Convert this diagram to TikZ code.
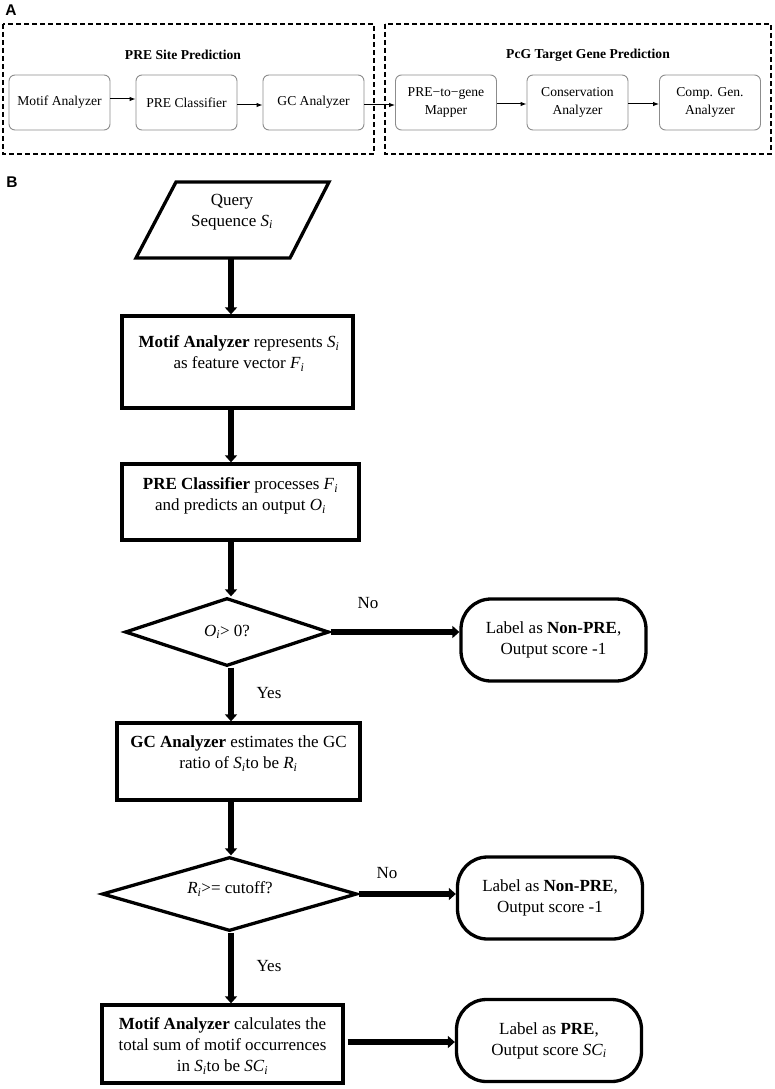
\documentclass[tikz,border=0pt]{standalone}
\usepackage{fontspec}
\setmainfont{Liberation Serif}
\newfontfamily\labfont{Liberation Sans}
\usetikzlibrary{shapes.geometric,arrows.meta,calc}
\newcommand{\subv}[1]{\textit{#1}\textsubscript{\textit{i}}}
\tikzset{
  dashbox/.style={draw, dash pattern=on 5pt off 3pt, line width=1.2pt},
  abox/.style={draw=black!45, line width=0.9pt, rounded corners=6pt, minimum width=101pt, minimum height=55pt, align=center, inner sep=2pt, font=\fontsize{13.6}{18}\selectfont},
  atitle/.style={font=\fontsize{13.6}{16}\selectfont\bfseries},
  aarr/.style={line width=1pt, -{Latex[length=6pt,width=4.5pt]}},
  bbox/.style={draw, line width=3.3pt, inner sep=0pt},
  btext/.style={align=center, font=\fontsize{17}{21}\selectfont, inner sep=0pt},
  term/.style={draw, line width=3.3pt, rounded corners=30pt, minimum width=185pt, minimum height=82pt, align=center, font=\fontsize{17}{21}\selectfont},
  dec/.style={draw, diamond, line width=3.3pt, aspect=3, inner sep=0pt, font=\fontsize{17}{21}\selectfont},
  barr/.style={line width=5.5pt, -{Triangle[length=7pt,width=12pt]}},
  lbl/.style={font=\fontsize{17}{21}\selectfont},
  panel/.style={font=\labfont\fontsize{15.5}{17}\selectfont\bfseries}
}
\begin{document}
\begin{tikzpicture}[x=1pt,y=-1pt]
\useasboundingbox (0,0) rectangle (774,1089);
% ---------- Panel A ----------
\node[panel] (pa) at (11,10) {A};
\draw[dashbox] (3,24) rectangle (374,154);
\draw[dashbox] (385,24) rectangle (771,154);
\node[atitle] (t1) at (183,55) {PRE Site Prediction};
\node[atitle] (t2) at (588,55) {PcG Target Gene Prediction};
\node[abox] (a1) at (59.5,102.5) {Motif Analyzer};
\node[abox] (a2) at (186.5,102.5) {PRE Classifier};
\node[abox] (a3) at (313.5,102.5) {GC Analyzer};
\node[abox] (a4) at (446,102.5) {PRE−to−gene\\Mapper};
\node[abox] (a5) at (577.5,102.5) {Conservation\\Analyzer};
\node[abox] (a6) at (710,102.5) {Comp. Gen.\\Analyzer};
\draw[aarr] ([yshift=3.5pt]a1.east) -- ([yshift=3.5pt]a2.west);
\draw[aarr] ([yshift=-2.5pt]a2.east) -- ([yshift=-2.5pt]a3.west);
\draw[aarr] ([yshift=-2.5pt]a3.east) -- ([yshift=-2.5pt]a4.west);
\draw[aarr] ([yshift=-1.5pt]a4.east) -- ([yshift=-1.5pt]a5.west);
\draw[aarr] ([yshift=-1.5pt]a5.east) -- ([yshift=-1.5pt]a6.west);
% ---------- Panel B ----------
\node[panel] (pb) at (12,182) {B};
\coordinate (ax) at (231,0);
% query parallelogram
\coordinate (q1) at (176,182);
\coordinate (q2) at (329,182);
\coordinate (q3) at (290,258);
\coordinate (q4) at (136,258);
\draw[line width=3.3pt, line join=miter] (q1) -- (q2) -- (q3) -- (q4) -- cycle;
\node[btext] (q) at (232,212) {Query\\Sequence \subv{S}};
\coordinate (qb) at (231,258);
% boxes
\node[bbox, minimum width=231pt, minimum height=92pt] (m1) at (237.5,362) {};
\node[btext] (m1t) at (239,353.5) {\textbf{Motif Analyzer} represents \subv{S}\\as feature vector \subv{F}};
\node[bbox, minimum width=237pt, minimum height=76pt] (m2) at (240.5,502) {};
\node[btext] (m2t) at (240.5,496) {\textbf{PRE Classifier} processes \subv{F}\\and predicts an output \subv{O}};
\node[dec, minimum width=204pt, minimum height=68pt] (d1) at (227,632) {\subv{O}> 0?};
\node[bbox, minimum width=243pt, minimum height=77pt] (m3) at (238.5,761.5) {};
\node[btext] (m3t) at (238.5,753.5) {\textbf{GC Analyzer} estimates the GC\\ratio of \subv{S}to be \subv{R}};
\node[dec, minimum width=255pt, minimum height=74pt] (d2) at (229.5,894) {};
\node[btext] (d2t) at (230,889) {\subv{R}>= cutoff?};
\node[bbox, minimum width=241pt, minimum height=78pt] (m4) at (222.5,1044) {};
\node[btext] (m4t) at (222.5,1046) {\textbf{Motif Analyzer} calculates the\\total sum of motif occurrences\\in \subv{S}to be \textit{SC}\textsubscript{\textit{i}}};
% terminals
\node[term] (n1) at (553.5,640) {Label as \textbf{Non-PRE},\\Output score -1};
\node[term] (n2) at (550,898) {Label as \textbf{Non-PRE},\\Output score -1};
\node[term] (n3) at (549,1040.5) {Label as \textbf{PRE},\\Output score \textit{SC}\textsubscript{\textit{i}}};
% arrows
\draw[barr] (qb) -- (qb |- m1.north);
\draw[barr] (m1.south -| ax) -- (m2.north -| ax);
\draw[barr] (m2.south -| ax) -- (d1.north -| ax);
\draw[barr] (d1.south -| ax) -- (m3.north -| ax);
\draw[barr] (m3.south -| ax) -- (d2.north -| ax);
\draw[barr] (d2.south -| ax) -- (m4.north -| ax);
\draw[barr] (d1.east) -- (d1.east -| n1.west);
\draw[barr] (d2.east) -- (d2.east -| n2.west);
\draw[barr] ([xshift=3pt]m4.east |- 0,1042) -- (n3.west |- 0,1042);
% labels
\node[lbl] (no1) at (368,603) {No};
\node[lbl] (yes1) at (269,693) {Yes};
\node[lbl] (no2) at (387,873) {No};
\node[lbl] (yes2) at (269,966) {Yes};
\end{tikzpicture}
\end{document}
